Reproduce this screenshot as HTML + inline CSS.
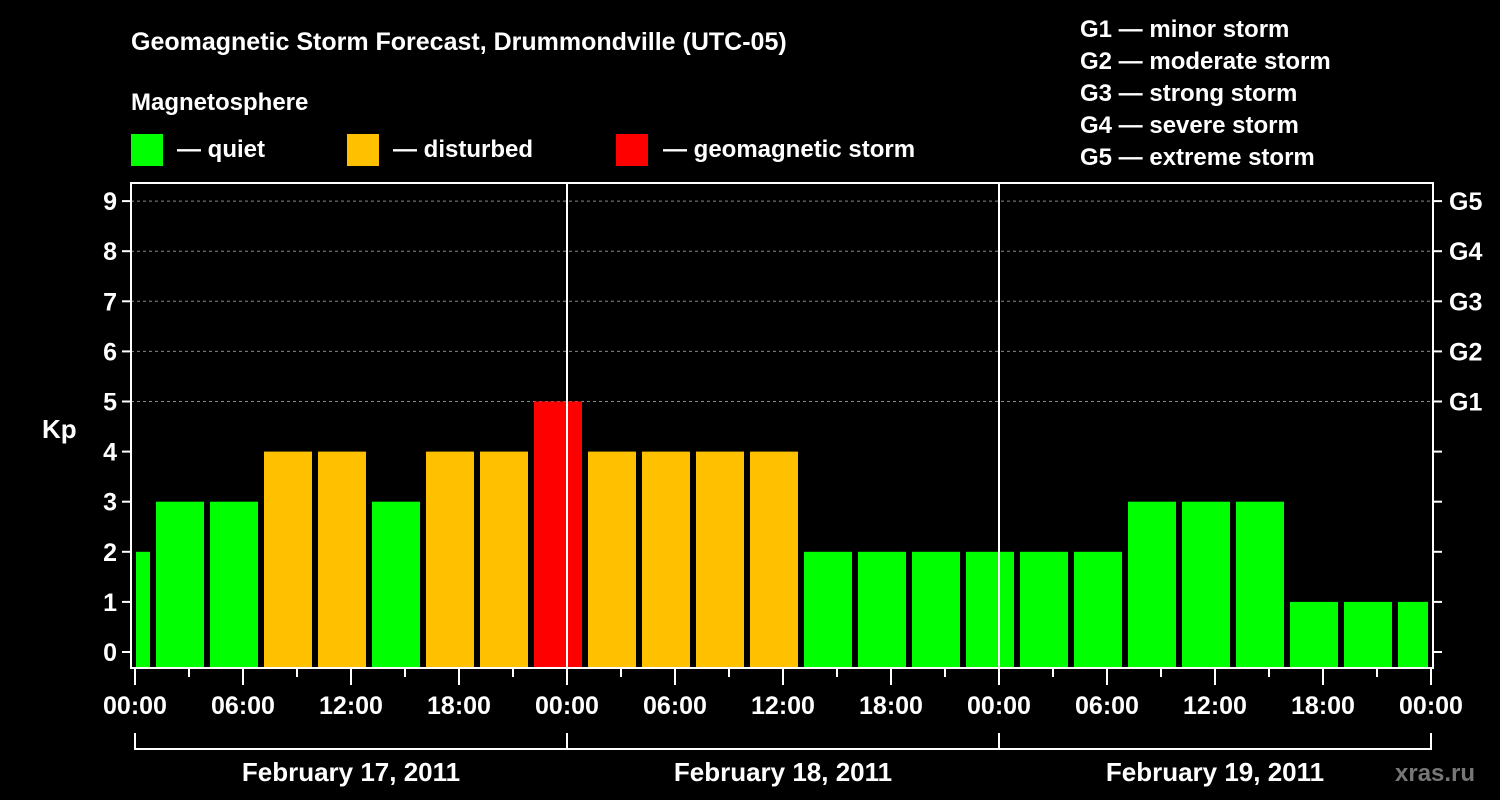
<!DOCTYPE html>
<html><head><meta charset="utf-8"><style>
html,body{margin:0;padding:0;background:#000;width:1500px;height:800px;overflow:hidden}
svg text{font-family:"Liberation Sans",sans-serif;font-weight:bold;fill:#fff}
</style></head><body>
<svg id="c" width="1500" height="800">
<text x="131" y="50" font-size="25">Geomagnetic Storm Forecast, Drummondville (UTC-05)</text>
<text x="131" y="110" font-size="24">Magnetosphere</text>
<g><rect x="131" y="134" width="32" height="32" fill="#00ff00"/><text x="177" y="157" font-size="24">— quiet</text></g>
<g><rect x="347" y="134" width="32" height="32" fill="#ffc000"/><text x="393" y="157" font-size="24">— disturbed</text></g>
<g><rect x="616" y="134" width="32" height="32" fill="#ff0000"/><text x="663" y="157" font-size="24">— geomagnetic storm</text></g>
<g font-size="24">
<text x="1080" y="37">G1 — minor storm</text><text x="1080" y="69">G2 — moderate storm</text><text x="1080" y="101">G3 — strong storm</text><text x="1080" y="133">G4 — severe storm</text><text x="1080" y="165">G5 — extreme storm</text></g>
<text x="42" y="438" font-size="26">Kp</text>
<text x="1395" y="781" font-size="24" style="fill:#777">xras.ru</text>
<g id="grid"></g><g id="bars"></g><g id="axes"></g>
</svg>
<script>
const kpValues=[2,3,3,4,4,3,4,4,5,4,4,4,4,2,2,2,2,2,2,3,3,3,1,1,1];
const yTicks=[0,1,2,3,4,5,6,7,8,9];
const gLabels=["G1","G2","G3","G4","G5"];
const xLabels=["00:00","06:00","12:00","18:00","00:00","06:00","12:00","18:00","00:00","06:00","12:00","18:00","00:00"];
const dateLabels=["February 17, 2011","February 18, 2011","February 19, 2011"];
const NS="http://www.w3.org/2000/svg";
const X0=135,PXH=18,Y0=652,PXK=50.1,TOP=183,BOT=668,L=131,R=1433;
const xs=h=>X0+h*PXH, ys=k=>Y0-k*PXK;
function mk(p,tag,a){const e=document.createElementNS(NS,tag);for(const k in a)e.setAttribute(k,a[k]);p.appendChild(e);return e;}
const grid=document.getElementById('grid'),bars=document.getElementById('bars'),axes=document.getElementById('axes');
for(let k=5;k<=9;k++){const l=mk(grid,'line',{x1:L,x2:R,y1:ys(k),y2:ys(k),stroke:'#888','stroke-dasharray':'3,3','stroke-width':1});

}
kpValues.forEach((v,i)=>{let h0=Math.max(0,-2+3*i),h1=Math.min(72,1+3*i);
const c=v>=5?'#ff0000':v>=4?'#ffc000':'#00ff00';
const r=mk(bars,'rect',{x:xs(h0)+(h0===0?1:3),y:ys(v),width:xs(h1)-xs(h0)-(h0===0?4:6),height:BOT-ys(v),fill:c});

});
for(let d=1;d<=2;d++){const l=mk(axes,'line',{x1:xs(24*d),x2:xs(24*d),y1:TOP,y2:BOT,stroke:'#fff','stroke-width':2});

}
const fr=mk(axes,'rect',{x:L,y:TOP,width:R-L,height:BOT-TOP,fill:'none',stroke:'#fff','stroke-width':2});


yTicks.forEach(k=>{mk(axes,'line',{x1:L-9,x2:L,y1:ys(k),y2:ys(k),stroke:'#fff','stroke-width':2});
mk(axes,'line',{x1:R,x2:R+9,y1:ys(k),y2:ys(k),stroke:'#fff','stroke-width':2});
const t=mk(axes,'text',{x:L-14,y:ys(k)+9,'text-anchor':'end','font-size':25});t.textContent=k;


if(k>=5){const g=mk(axes,'text',{x:R+16,y:ys(k)+9,'font-size':25});g.textContent=gLabels[k-5];

}});
for(let h=0;h<=72;h+=3){mk(axes,'line',{x1:xs(h),x2:xs(h),y1:BOT,y2:BOT+(h%6===0?17:9),stroke:'#fff','stroke-width':2});}
xLabels.forEach((s,i)=>{const t=mk(axes,'text',{x:xs(6*i),y:714,'text-anchor':'middle','font-size':25});t.textContent=s;

});
mk(axes,'line',{x1:xs(0),x2:xs(72),y1:749,y2:749,stroke:'#fff','stroke-width':2});
for(let d=0;d<=3;d++)mk(axes,'line',{x1:xs(24*d),x2:xs(24*d),y1:733,y2:750,stroke:'#fff','stroke-width':2});
dateLabels.forEach((s,i)=>{const t=mk(axes,'text',{x:xs(24*i+12),y:781,'text-anchor':'middle','font-size':26});t.textContent=s;

});
</script>
</body></html>
